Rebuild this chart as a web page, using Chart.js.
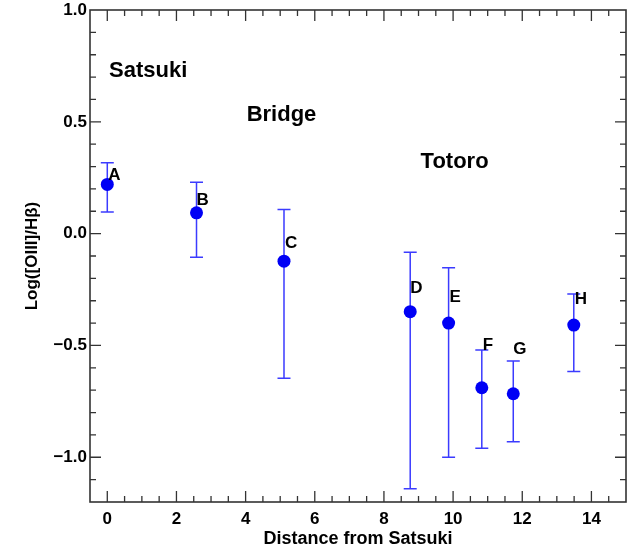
<!DOCTYPE html>
<html>
<head>
<meta charset="utf-8">
<script src="https://cdn.jsdelivr.net/npm/chart.js@4.4.1/dist/chart.umd.min.js"></script>
<style>
  html, body { margin: 0; padding: 0; background: #fff; }
  canvas { display: block; }
</style>
</head>
<body>
<canvas id="ratioChart" width="634" height="547"></canvas>
<script>
// distance from Satsuki and the line ratio measured at each knot
const knotNames = ['A', 'B', 'C', 'D', 'E', 'F', 'G', 'H'];
const distance  = [0, 2.58, 5.11, 8.76, 9.87, 10.83, 11.74, 13.49];
const logRatio  = [0.22, 0.093, -0.123, -0.349, -0.40, -0.689, -0.716, -0.409];
const errUpper  = [0.317, 0.23, 0.108, -0.083, -0.153, -0.52, -0.57, -0.27];
const errLower  = [0.097, -0.106, -0.647, -1.141, -1.0, -0.96, -0.931, -0.617];

const xTickValues = [0, 2, 4, 6, 8, 10, 12, 14];
const yTickValues = [-1.0, -0.5, 0.0, 0.5, 1.0];

// region names, placed in data units (left edge, baseline)
const regionNames = ['Satsuki', 'Bridge', 'Totoro'];
const regionX = [0.05, 4.03, 9.06];
const regionY = [0.702, 0.504, 0.295];

// pixel nudges for the knot letters relative to the marker centre
const letterNudge = [[1, -4], [0, -8], [1, -13], [0, -19], [1, -21], [1, -38], [0, -40], [1, -21]];

const FONT = '"Liberation Sans", Arial, Helvetica, sans-serif';
const BLUE = '#0000f5';
const BAR_BLUE = '#3b3bff';
const FRAME = '#333333';

const errorBars = {
    id: 'errorBars',
    beforeDatasetsDraw(chart) {
        const { ctx, scales: { x, y } } = chart;
        ctx.save();
        ctx.strokeStyle = BAR_BLUE;
        ctx.lineWidth = 1.5;
        distance.forEach((d, i) => {
            const px = x.getPixelForValue(d);
            const top = y.getPixelForValue(errUpper[i]);
            const bot = y.getPixelForValue(errLower[i]);
            ctx.beginPath();
            ctx.moveTo(px, top); ctx.lineTo(px, bot);
            ctx.moveTo(px - 6.5, top); ctx.lineTo(px + 6.5, top);
            ctx.moveTo(px - 6.5, bot); ctx.lineTo(px + 6.5, bot);
            ctx.stroke();
        });
        ctx.restore();
    }
};

const frameAndText = {
    id: 'frameAndText',
    afterDraw(chart) {
        const { ctx, chartArea: { left, right, top, bottom }, scales: { x, y } } = chart;
        ctx.save();
        ctx.strokeStyle = FRAME;
        ctx.lineWidth = 1.6;
        ctx.strokeRect(left, top, right - left, bottom - top);

        // inward ticks on all four sides
        ctx.lineWidth = 1.3;
        ctx.beginPath();
        for (let i = 0; i <= 29; i++) {
            const v = i * 0.5;
            const len = (v % 2 === 0) ? 11 : 6;
            const px = x.getPixelForValue(v);
            ctx.moveTo(px, bottom); ctx.lineTo(px, bottom - len);
            ctx.moveTo(px, top); ctx.lineTo(px, top + len);
        }
        for (let i = -11; i <= 9; i++) {
            const v = i / 10;
            const len = (i % 5 === 0) ? 11 : 6;
            const py = y.getPixelForValue(v);
            ctx.moveTo(left, py); ctx.lineTo(left + len, py);
            ctx.moveTo(right, py); ctx.lineTo(right - len, py);
        }
        ctx.stroke();

        // knot letters
        ctx.fillStyle = '#000';
        ctx.textAlign = 'left';
        ctx.textBaseline = 'alphabetic';
        ctx.font = 'bold 17px ' + FONT;
        knotNames.forEach((name, i) => {
            const px = x.getPixelForValue(distance[i]) + letterNudge[i][0];
            const py = y.getPixelForValue(logRatio[i]) + letterNudge[i][1];
            ctx.fillText(name, px, py);
        });

        // region names
        ctx.font = 'bold 22px ' + FONT;
        regionNames.forEach((name, i) => {
            ctx.fillText(name, x.getPixelForValue(regionX[i]), y.getPixelForValue(regionY[i]));
        });
        ctx.restore();
    }
};

const fmt = v => (v < 0 ? '\u2212' : '') + Math.abs(v).toFixed(1);

new Chart(document.getElementById('ratioChart'), {
    type: 'scatter',
    data: {
        datasets: [{
            data: distance.map((d, i) => ({ x: d, y: logRatio[i] })),
            pointRadius: 6.5,
            pointHoverRadius: 6.5,
            backgroundColor: BLUE,
            borderWidth: 0
        }]
    },
    options: {
        responsive: false,
        animation: false,
        events: [],
        layout: { padding: { top: 10, right: 8, left: 0, bottom: 0 } },
        plugins: { legend: { display: false }, tooltip: { enabled: false } },
        scales: {
            x: {
                type: 'linear',
                min: -0.5,
                max: 15,
                afterBuildTicks: s => { s.ticks = xTickValues.map(v => ({ value: v })); },
                afterFit: s => { s.height = 45; s.paddingLeft = 0; s.paddingRight = 0; },
                grid: { display: false, drawTicks: false },
                border: { display: false },
                ticks: {
                    padding: 7,
                    color: '#000',
                    maxRotation: 0,
                    font: { family: FONT, size: 17, weight: 'bold' },
                    callback: v => String(v)
                },
                title: {
                    display: true,
                    text: 'Distance from Satsuki',
                    color: '#000',
                    padding: { top: 0, bottom: -3 },
                    font: { family: FONT, size: 18, weight: 'bold' }
                }
            },
            y: {
                type: 'linear',
                min: -1.2,
                max: 1.0,
                afterBuildTicks: s => { s.ticks = yTickValues.map(v => ({ value: v })); },
                afterFit: s => { s.width = 90; s.paddingTop = 0; s.paddingBottom = 0; },
                grid: { display: false, drawTicks: false },
                border: { display: false },
                ticks: {
                    padding: 3,
                    color: '#000',
                    font: { family: FONT, size: 17, weight: 'bold' },
                    callback: v => fmt(v)
                },
                title: {
                    display: true,
                    text: 'Log([OIII]/H\u03B2)',
                    color: '#000',
                    padding: { top: 22, bottom: 0 },
                    font: { family: FONT, size: 17, weight: 'bold' }
                }
            }
        }
    },
    plugins: [errorBars, frameAndText]
});
</script>
</body>
</html>
